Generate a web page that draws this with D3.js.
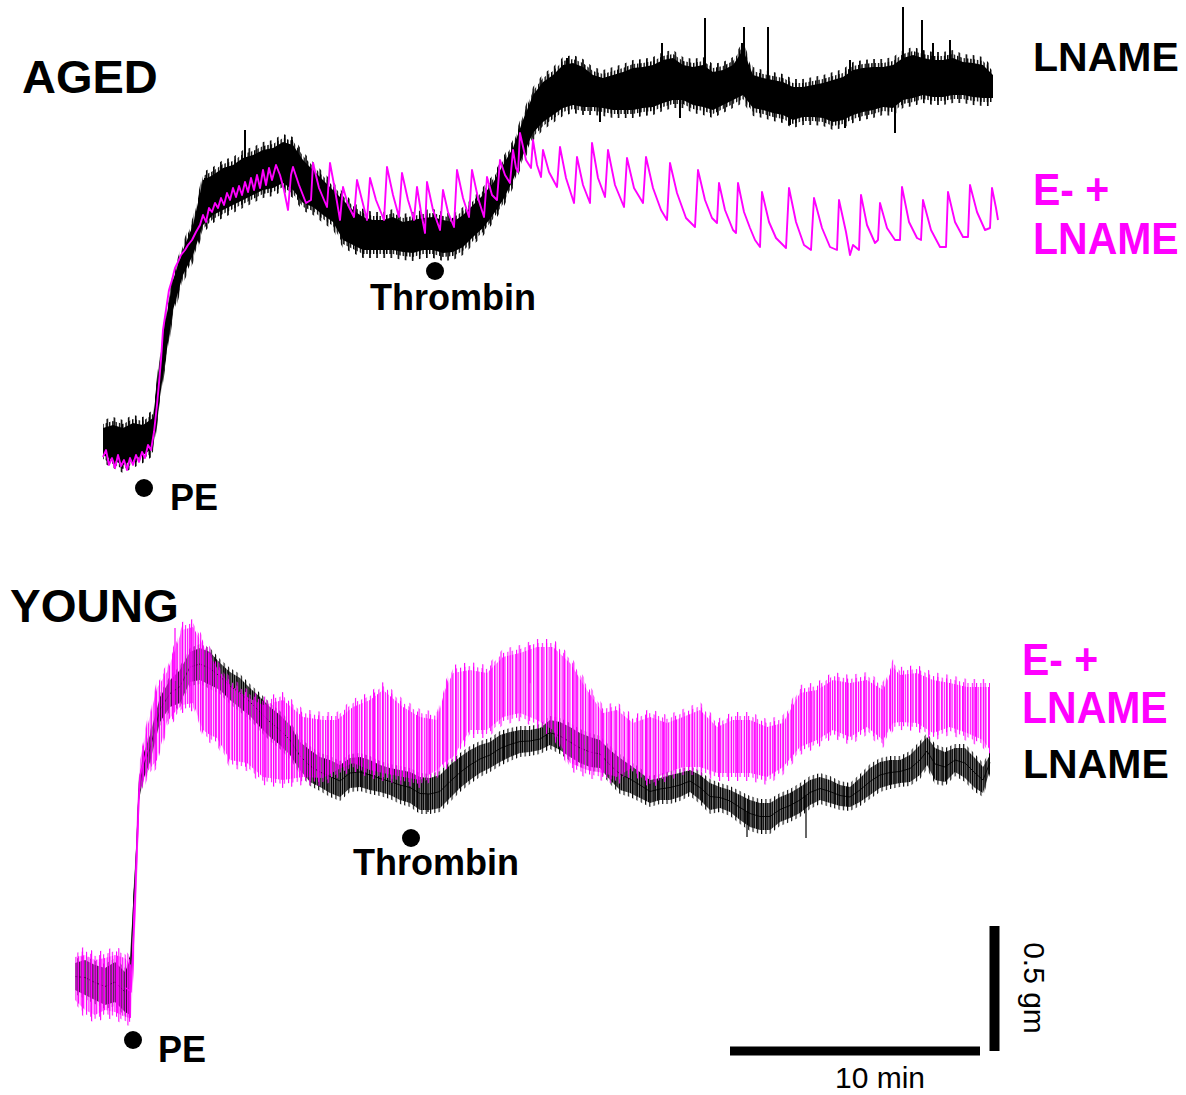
<!DOCTYPE html>
<html><head><meta charset="utf-8">
<script src="https://cdn.jsdelivr.net/npm/d3@7"></script>
<style>body{margin:0;background:#fff}svg{display:block}</style>
</head><body>
<svg id="c" width="1186" height="1095"></svg>
<script>
// ---------- DATA (time in min, force in gm above each trace's resting level) ----------
const AGED_DT = 0.4; // sample interval of the aged LNAME envelope (min)
const agedLnameHi = [0.128,0.140,0.128,0.148,0.140,0.168,0.500,0.720,0.840,0.940,
 1.120,1.140,1.168,1.180,1.208,1.220,1.240,1.248,1.272,1.260,
 1.200,1.160,1.120,1.080,1.040,1.000,0.972,0.960,0.960,0.972,
 0.952,0.960,0.968,0.972,0.960,0.952,0.980,1.020,1.060,1.108,
 1.180,1.248,1.360,1.460,1.512,1.540,1.580,1.588,1.572,1.540,
 1.528,1.540,1.552,1.568,1.572,1.580,1.600,1.608,1.580,1.572,
 1.580,1.552,1.560,1.580,1.640,1.540,1.528,1.520,1.512,1.492,
 1.492,1.500,1.508,1.520,1.532,1.560,1.568,1.572,1.572,1.580,
 1.608,1.620,1.608,1.600,1.600,1.608,1.592,1.588,1.580,1.540];
const agedLnameLo = [0.020,0.000,-0.020,0.000,0.020,0.048,0.340,0.600,0.740,0.820,
 0.940,0.980,1.000,1.020,1.040,1.060,1.080,1.088,1.108,1.080,
 1.028,1.012,0.980,0.952,0.880,0.860,0.840,0.840,0.840,0.840,
 0.832,0.828,0.840,0.840,0.828,0.832,0.852,0.892,0.928,0.980,
 1.040,1.120,1.220,1.308,1.352,1.380,1.408,1.420,1.412,1.412,
 1.408,1.400,1.400,1.400,1.408,1.412,1.428,1.440,1.440,1.420,
 1.412,1.400,1.420,1.440,1.460,1.408,1.400,1.388,1.380,1.360,
 1.372,1.372,1.368,1.352,1.360,1.380,1.392,1.400,1.412,1.408,
 1.440,1.448,1.460,1.452,1.452,1.460,1.460,1.452,1.448,1.448];
const agedLnameSpikes = [[4.08,1.128],[5.68,1.320],[7.56,1.280],[18.56,1.608],[22.36,1.668],
 [24.08,1.768],[25.56,1.668],[25.64,1.732],[26.60,1.732],[29.88,1.600],[32.00,1.812],
 [32.76,1.760],[33.20,1.668],[33.88,1.680],[19.88,1.352],[31.68,1.308],[29.68,1.328],
 [27.48,1.340],[23.08,1.368]];

const agedElname = [[0.00,0.012],[0.12,0.040],[0.24,-0.020],[0.36,0.008],[0.48,-0.032],[0.60,0.020],
 [0.72,-0.024],[0.84,0.000],[0.96,-0.040],[1.08,0.008],[1.20,-0.020],[1.32,0.020],[1.44,-0.008],
 [1.56,0.032],[1.68,0.008],[1.80,0.060],[1.92,0.040],[2.04,0.112],[2.16,0.220],[2.24,0.308],
 [2.32,0.400],[2.40,0.520],[2.52,0.600],[2.64,0.680],[2.76,0.720],[2.88,0.768],[3.00,0.792],
 [3.12,0.820],[3.28,0.840],[3.40,0.860],[3.56,0.880],[3.72,0.912],[3.88,0.940],[4.00,0.980],
 [4.12,0.952],[4.24,1.008],[4.36,0.992],[4.48,1.028],[4.60,1.008],[4.72,1.048],[4.84,1.020],
 [4.96,1.068],[5.08,1.040],[5.20,1.088],[5.32,1.052],[5.44,1.096],[5.56,1.060],[5.68,1.112],
 [5.80,1.072],[5.92,1.128],[6.04,1.080],[6.16,1.140],[6.28,1.088],[6.40,1.160],[6.52,1.100],
 [6.64,1.168],[6.76,1.120],[6.92,1.180],[7.08,1.140],[7.24,1.080],[7.40,1.000],[7.52,1.140],
 [7.60,1.172],[7.84,1.100],[8.12,1.028],[8.32,1.040],[8.40,1.188],[8.64,1.088],[8.96,1.012],
 [9.08,1.188],[9.28,1.080],[9.48,0.960],[9.60,1.092],[9.80,1.020],[10.04,0.972],[10.16,1.120],
 [10.36,1.040],[10.56,0.960],[10.68,1.128],[10.92,1.040],[11.24,0.960],[11.36,1.172],[11.60,1.060],
 [11.84,0.972],[11.96,1.148],[12.20,1.040],[12.44,0.960],[12.56,1.092],[12.72,0.992],[12.88,0.908],
 [12.96,1.112],[13.20,1.000],[13.48,0.920],[13.60,1.080],[13.80,0.992],[14.04,0.932],[14.16,1.160],
 [14.40,1.048],[14.64,0.972],[14.76,1.160],[15.00,1.048],[15.24,0.972],[15.36,1.132],[15.56,1.060],
 [15.76,1.040],[15.88,1.200],[16.08,1.140],[16.28,1.108],[16.40,1.240],[16.52,1.168],[16.60,1.152],
 [16.68,1.308],[16.92,1.200],[17.12,1.168],[17.20,1.280],[17.36,1.180],[17.52,1.132],[17.60,1.240],
 [17.84,1.152],[18.16,1.092],[18.28,1.252],[18.52,1.128],[18.84,1.028],[18.96,1.212],[19.20,1.100],
 [19.48,1.028],[19.56,1.268],[19.80,1.128],[20.08,1.052],[20.20,1.240],[20.48,1.100],[20.84,1.012],
 [20.96,1.208],[21.24,1.088],[21.60,1.028],[21.72,1.212],[22.00,1.088],[22.32,1.000],[22.56,0.960],
 [22.68,1.188],[22.96,1.068],[23.32,0.968],[23.68,0.932],[23.80,1.160],[24.08,1.040],[24.36,0.968],
 [24.56,0.948],[24.64,1.108],[24.88,1.000],[25.20,0.920],[25.32,0.908],[25.40,1.108],[25.64,0.992],
 [25.88,0.928],[26.08,0.880],[26.28,0.852],[26.36,1.072],[26.64,0.952],[26.92,0.888],[27.32,0.848],
 [27.44,1.088],[27.72,0.952],[28.04,0.860],[28.32,0.840],[28.44,1.048],[28.76,0.928],[29.08,0.852],
 [29.36,0.840],[29.44,1.040],[29.72,0.912],[29.88,0.820],[30.00,0.860],[30.24,0.840],[30.32,1.060],
 [30.56,0.940],[30.88,0.868],[31.00,0.880],[31.08,1.028],[31.36,0.928],[31.68,0.880],[31.88,0.880],
 [31.96,1.092],[32.24,0.952],[32.56,0.888],[32.72,0.880],[32.80,1.040],[33.12,0.920],[33.48,0.852],
 [33.72,0.852],[33.80,1.072],[34.08,0.952],[34.40,0.892],[34.60,0.892],[34.68,1.100],[34.96,0.992],
 [35.28,0.920],[35.48,0.928],[35.56,1.088],[35.72,1.008],[35.80,0.960]];

const youngLnameT = [0.00,0.40,0.80,1.20,1.60,2.00,2.20,2.32,2.44,2.56,2.72,3.00,3.40,3.80,4.20,4.60,5.00,5.40,5.80,6.20,6.60,7.00,7.40,7.80,8.20,8.60,9.00,9.40,9.80,10.20,10.60,11.00,11.40,11.80,12.20,12.60,13.00,13.40,13.80,14.20,14.60,15.00,15.40,15.80,16.20,16.60,17.00,17.40,17.80,18.20,18.60,19.00,19.40,19.80,20.20,20.60,21.00,21.40,21.80,22.20,22.60,23.00,23.40,23.80,24.20,24.60,25.00,25.40,25.80,26.20,26.60,27.00,27.40,27.80,28.20,28.60,29.00,29.40,29.80,30.20,30.60,31.00,31.40,31.80,32.20,32.60,33.00,33.40,33.80,34.08,34.40,34.80,35.20,35.60,36.00,36.32,36.60];
const youngLnameHi = [0.188,0.200,0.180,0.168,0.192,0.152,0.200,0.420,0.640,0.920,1.020,1.100,1.252,1.320,1.360,1.432,1.448,1.432,1.388,1.352,1.328,1.288,1.252,1.212,1.180,1.140,1.072,1.040,1.012,1.000,0.980,1.008,1.012,1.000,0.980,0.968,0.960,0.952,0.932,0.928,0.940,0.980,1.012,1.040,1.060,1.072,1.100,1.112,1.120,1.120,1.128,1.160,1.152,1.132,1.108,1.092,1.080,1.040,1.008,0.980,0.952,0.920,0.928,0.940,0.948,0.960,0.940,0.908,0.892,0.880,0.860,0.840,0.828,0.828,0.852,0.868,0.892,0.920,0.932,0.920,0.900,0.892,0.928,0.968,0.992,1.000,1.000,1.020,1.060,1.092,1.048,1.032,1.048,1.048,1.008,0.972,1.020];
const youngLnameLo = [0.080,0.060,0.040,0.020,0.032,-0.008,-0.020,0.340,0.560,0.840,0.920,0.992,1.152,1.212,1.228,1.312,1.320,1.300,1.280,1.240,1.208,1.176,1.132,1.092,1.060,1.020,0.960,0.912,0.892,0.868,0.852,0.888,0.892,0.880,0.872,0.860,0.840,0.828,0.800,0.800,0.808,0.848,0.888,0.920,0.948,0.968,0.992,1.012,1.028,1.032,1.040,1.060,1.040,1.012,0.988,0.972,0.968,0.920,0.880,0.868,0.848,0.828,0.840,0.840,0.852,0.872,0.840,0.800,0.808,0.792,0.760,0.732,0.720,0.720,0.752,0.768,0.788,0.820,0.840,0.828,0.816,0.812,0.832,0.860,0.888,0.900,0.908,0.912,0.940,0.980,0.920,0.912,0.952,0.928,0.888,0.868,0.960];
const youngLnameSpikes = [[29.24,0.688],[26.88,0.692],[14.12,0.792]];

const youngElT = [0.00,0.40,0.80,1.20,1.60,2.00,2.24,2.36,2.48,2.60,2.88,3.28,3.68,4.00,4.28,4.72,5.12,5.40,5.68,6.20,6.88,7.52,8.32,9.12,9.92,10.48,11.12,11.80,12.32,13.12,13.80,14.48,14.80,15.12,15.80,16.48,17.12,17.80,18.48,19.12,19.80,20.48,21.12,21.68,22.32,23.00,23.68,24.32,25.00,25.68,26.32,27.00,27.68,28.32,29.00,29.68,30.32,31.00,31.68,32.32,32.72,33.00,33.68,34.32,35.00,35.68,36.32,36.60];
const youngElHi = [0.212,0.220,0.200,0.208,0.220,0.208,0.180,0.440,0.760,1.000,1.128,1.288,1.352,1.440,1.520,1.532,1.460,1.420,1.368,1.300,1.252,1.220,1.240,1.172,1.160,1.160,1.212,1.240,1.280,1.212,1.172,1.160,1.280,1.348,1.360,1.348,1.412,1.428,1.452,1.452,1.388,1.280,1.188,1.200,1.148,1.172,1.148,1.172,1.200,1.132,1.160,1.160,1.132,1.148,1.268,1.280,1.320,1.308,1.320,1.280,1.372,1.340,1.348,1.320,1.308,1.292,1.292,1.292];
const youngElLo = [0.040,0.000,-0.020,0.000,-0.008,-0.028,-0.032,0.200,0.560,0.880,0.952,1.000,1.152,1.192,1.220,1.228,1.120,1.100,1.088,1.000,0.988,0.932,0.920,0.932,0.928,0.960,0.988,0.960,0.948,0.932,0.920,0.960,0.992,1.012,1.120,1.120,1.172,1.188,1.160,1.120,0.988,0.960,0.948,0.932,0.972,0.920,0.948,0.972,0.972,0.948,0.948,0.948,0.932,0.972,1.052,1.080,1.120,1.092,1.132,1.080,1.148,1.152,1.148,1.108,1.132,1.108,1.080,1.040];
const youngElSpikes = [[4.00,1.528],[18.20,1.460]];

const panelTitles = ["AGED", "YOUNG"];
const drugEvents = [["PE", 1.64], ["Thrombin", 13.28]];      // aged: time of addition (min)
const drugEventsYoung = [["PE", 2.32], ["Thrombin", 13.44]]; // young
const scaleBarTime = 10;   // min
const scaleBarForce = 0.5; // gm

// ---------- DRAW ----------
const MAG = "#ff00ff";
const FONT = "'Liberation Sans', Arial, Helvetica, sans-serif";
const svg = d3.select("#c");
const defs = svg.append("defs");
function hatch(id, color, period, w) {
  const p = defs.append("pattern").attr("id", id).attr("patternUnits", "userSpaceOnUse")
    .attr("width", period).attr("height", 40);
  p.append("rect").attr("width", w).attr("height", 40).attr("fill", color);
}
hatch("hatchK", "#000", 1.8, 1.3);
hatch("hatchM", MAG, 2.6, 1.15);
hatch("fuzzK1", "#000", 3.3, 1.4);
hatch("fuzzK2", "#000", 7.1, 1.6);
hatch("fuzzYK", "#000", 4.3, 1.1);
hatch("fuzzM1", MAG, 4.3, 1.0);
hatch("fuzzM2", MAG, 9.1, 1.1);

function interp(ts, vs, t) {
  const i = d3.bisectLeft(ts, t);
  if (i <= 0) return vs[0];
  if (i >= ts.length) return vs[vs.length - 1];
  const a = (t - ts[i - 1]) / (ts[i] - ts[i - 1]);
  return vs[i - 1] + a * (vs[i] - vs[i - 1]);
}

// Aged panel scales
const xA = d3.scaleLinear().domain([0, 10]).range([103, 353]);
const yA = d3.scaleLinear().domain([0, 1]).range([460, 210]);
// Young panel scales
const xY = d3.scaleLinear().domain([0, 10]).range([75, 325]);
const yY = d3.scaleLinear().domain([0, 1]).range([1010, 760]);

// envelope band; pad (px) widens it for the fuzzy tips of the noise strokes
function band(g, x, y, ts, hi, lo, fill, pad, strokeW, color) {
  const rows = ts.map((t, i) => ({t, hi: hi[i], lo: lo[i]}));
  g.append("path").datum(rows)
    .attr("d", d3.area().x(d => x(d.t)).y0(d => y(d.lo) + pad).y1(d => y(d.hi) - pad))
    .attr("fill", fill).attr("stroke", strokeW ? color : "none").attr("stroke-width", strokeW || 0);
}
function spikes(g, x, y, ts, hi, lo, list, color, w) {
  g.selectAll(null).data(list).enter().append("line")
    .attr("x1", d => x(d[0])).attr("x2", d => x(d[0]))
    .attr("y1", d => y((interp(ts, hi, d[0]) + interp(ts, lo, d[0])) / 2))
    .attr("y2", d => y(d[1]))
    .attr("stroke", color).attr("stroke-width", w);
}
function midline(g, x, y, ts, hi, lo, color, w) {
  g.append("path").datum(ts.map((t, i) => [t, (hi[i] + lo[i]) / 2]))
    .attr("d", d3.line().x(d => x(d[0])).y(d => y(d[1])))
    .attr("fill", "none").attr("stroke", color).attr("stroke-width", w);
}

// ---- Aged ----
const gA = svg.append("g");
const agedT = agedLnameHi.map((_, i) => i * AGED_DT);
band(gA, xA, yA, agedT, agedLnameHi, agedLnameLo, "url(#fuzzK2)", 8);
band(gA, xA, yA, agedT, agedLnameHi, agedLnameLo, "url(#fuzzK1)", 4);
band(gA, xA, yA, agedT, agedLnameHi, agedLnameLo, "#000", 0);
spikes(gA, xA, yA, agedT, agedLnameHi, agedLnameLo, agedLnameSpikes, "#000", 2);
gA.append("path").datum(agedElname)
  .attr("d", d3.line().x(d => xA(d[0])).y(d => yA(d[1])))
  .attr("fill", "none").attr("stroke", MAG).attr("stroke-width", 1.9).attr("stroke-linejoin", "round");

// ---- Young ----
const gY = svg.append("g");
band(gY, xY, yY, youngLnameT, youngLnameHi, youngLnameLo, "url(#fuzzYK)", 4);
band(gY, xY, yY, youngLnameT, youngLnameHi, youngLnameLo, "url(#hatchK)", 0);
midline(gY, xY, yY, youngLnameT, youngLnameHi, youngLnameLo, "#000", 0.9);
spikes(gY, xY, yY, youngLnameT, youngLnameHi, youngLnameLo, youngLnameSpikes, "#000", 1.2);
band(gY, xY, yY, youngElT, youngElHi, youngElLo, "url(#fuzzM2)", 8);
band(gY, xY, yY, youngElT, youngElHi, youngElLo, "url(#fuzzM1)", 4);
band(gY, xY, yY, youngElT, youngElHi, youngElLo, "url(#hatchM)", 0);
// the steep PE rise of the E- trace, drawn as a plain line
const riseIdx = d3.range(5, 11);
gY.append("path").datum(riseIdx.map(i => [youngElT[i], (youngElHi[i] + youngElLo[i]) / 2]))
  .attr("d", d3.line().x(d => xY(d[0])).y(d => yY(d[1])))
  .attr("fill", "none").attr("stroke", MAG).attr("stroke-width", 1.5);
spikes(gY, xY, yY, youngElT, youngElHi, youngElLo, youngElSpikes, MAG, 1.2);

// ---- Text labels ----
function txt(x, y, s, size, color, weight, extra) {
  const t = svg.append("text").attr("x", x).attr("y", y).text(s)
    .attr("font-family", FONT).attr("font-size", size).attr("font-weight", weight || "bold")
    .attr("fill", color || "#000");
  if (extra) extra(t);
  return t;
}
txt(22, 93, panelTitles[0], 47);
txt(10, 622, panelTitles[1], 46);
txt(1033, 71, "LNAME", 41);
function stretched(x, y, s) {
  svg.append("text").attr("transform", `translate(${x},${y}) scale(1,1.1)`).text(s)
    .attr("font-family", FONT).attr("font-size", 41).attr("font-weight", "bold").attr("fill", MAG);
}
stretched(1033, 205, "E- +");
stretched(1033, 254, "LNAME");
stretched(1022, 675, "E- +");
stretched(1022, 723, "LNAME");
txt(1023, 778, "LNAME", 41);

// event markers
function marker(x, yDot, label, dx, yText, anchor) {
  svg.append("circle").attr("cx", x).attr("cy", yDot).attr("r", 9).attr("fill", "#000");
  txt(x + dx, yText, label, 36, "#000", "bold", t => t.attr("text-anchor", anchor));
}
marker(xA(drugEvents[0][1]), 488, drugEvents[0][0], 26, 510, "start");
marker(xA(drugEvents[1][1]), 271, drugEvents[1][0], 18, 310, "middle");
marker(xY(drugEventsYoung[0][1]), 1040, drugEventsYoung[0][0], 25, 1062, "start");
marker(xY(drugEventsYoung[1][1]), 838, drugEventsYoung[1][0], 25, 875, "middle");

// ---- Scale bars ----
const xs = d3.scaleLinear().domain([0, scaleBarTime]).range([730, 730 + (xY(scaleBarTime) - xY(0))]);
svg.append("line").attr("x1", xs(0)).attr("x2", xs(scaleBarTime)).attr("y1", 1051).attr("y2", 1051)
  .attr("stroke", "#000").attr("stroke-width", 9);
const barH = yY(0) - yY(scaleBarForce);
svg.append("line").attr("x1", 994.5).attr("x2", 994.5).attr("y1", 1051).attr("y2", 1051 - barH)
  .attr("stroke", "#000").attr("stroke-width", 10);
txt(880, 1088, scaleBarTime + " min", 30, "#000", "normal", t => t.attr("text-anchor", "middle"));
svg.append("text").attr("transform", "translate(1024,988) rotate(90)").attr("text-anchor", "middle")
  .attr("font-family", FONT).attr("font-size", 30).attr("fill", "#000").text(scaleBarForce + " gm");
</script>
</body></html>
